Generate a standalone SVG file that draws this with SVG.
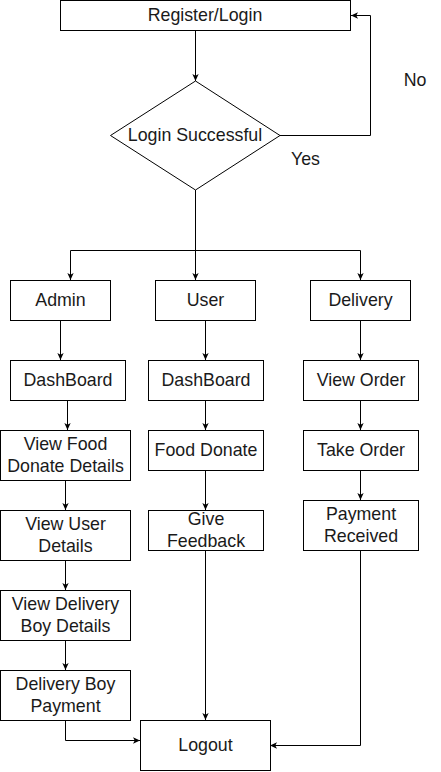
<svg xmlns="http://www.w3.org/2000/svg" width="441" height="772" viewBox="0 0 441 772">
<style>
.box{fill:#fff;stroke:#000;stroke-width:1}
.t{font-family:"Liberation Sans",Arial,sans-serif;font-size:17.8px;fill:#1a1a1a;text-anchor:middle}
.c{fill:none;stroke:#000;stroke-width:1}
</style>
<defs>
<marker id="arr" viewBox="0 0 10 10" refX="10" refY="5" markerWidth="7" markerHeight="7" markerUnits="userSpaceOnUse" orient="auto">
<path d="M0,0.5 L10,5 L0,9.5 L2.5,5 z" fill="#000"/>
</marker>
</defs>
<rect width="441" height="772" fill="#fff"/>
<g id="connectors">
<path class="c" d="M195.5,30 V81" marker-end="url(#arr)"/>
<path class="c" d="M280,135.5 H370.5 V15.5 H351" marker-end="url(#arr)"/>
<path class="c" d="M195.5,190 V280" marker-end="url(#arr)"/>
<path class="c" d="M195.5,250.5 H70.5 V280" marker-end="url(#arr)"/>
<path class="c" d="M195.5,250.5 H360.5 V280" marker-end="url(#arr)"/>
<path class="c" d="M60.5,320 V360" marker-end="url(#arr)"/>
<path class="c" d="M205.5,320 V360" marker-end="url(#arr)"/>
<path class="c" d="M360.5,320 V360" marker-end="url(#arr)"/>
<path class="c" d="M67.5,400 V430" marker-end="url(#arr)"/>
<path class="c" d="M205.5,400 V430" marker-end="url(#arr)"/>
<path class="c" d="M360.5,400 V430" marker-end="url(#arr)"/>
<path class="c" d="M65.5,480 V510" marker-end="url(#arr)"/>
<path class="c" d="M205.5,470 V510" marker-end="url(#arr)"/>
<path class="c" d="M360.5,470 V500" marker-end="url(#arr)"/>
<path class="c" d="M65.5,560 V590" marker-end="url(#arr)"/>
<path class="c" d="M65.5,640 V670" marker-end="url(#arr)"/>
<path class="c" d="M205.5,550 V720" marker-end="url(#arr)"/>
<path class="c" d="M65.5,720 V740.5 H140" marker-end="url(#arr)"/>
<path class="c" d="M360.5,550 V745.5 H270" marker-end="url(#arr)"/>
</g>
<g id="register">
<rect class="box" x="60.5" y="0.5" width="290" height="30"/>
<text class="t" x="205" y="21">Register/Login</text>
</g>
<g id="decision">
<polygon class="box" points="195.5,81 280,135.5 195.5,190 110.5,135.5"/>
<text class="t" x="195" y="141.2">Login Successful</text>
</g>
<text class="t" x="415" y="85.5">No</text>
<text class="t" x="305.5" y="165.2">Yes</text>
<g id="admin">
<rect class="box" x="10.5" y="280.5" width="100" height="40"/>
<text class="t" x="60.5" y="306">Admin</text>
</g>
<g id="user">
<rect class="box" x="155.5" y="280.5" width="100" height="40"/>
<text class="t" x="205.5" y="306">User</text>
</g>
<g id="delivery">
<rect class="box" x="310.5" y="280.5" width="100" height="40"/>
<text class="t" x="360.5" y="306">Delivery</text>
</g>
<g id="admin-dashboard">
<rect class="box" x="10.5" y="360.5" width="115" height="40"/>
<text class="t" x="68" y="386">DashBoard</text>
</g>
<g id="user-dashboard">
<rect class="box" x="148.5" y="360.5" width="115" height="40"/>
<text class="t" x="206" y="386">DashBoard</text>
</g>
<g id="view-order">
<rect class="box" x="303.5" y="360.5" width="115" height="40"/>
<text class="t" x="361" y="386">View Order</text>
</g>
<g id="view-food">
<rect class="box" x="0.5" y="430.5" width="130" height="50"/>
<text class="t" x="65.5" y="450">View Food</text>
<text class="t" x="65.5" y="472">Donate Details</text>
</g>
<g id="food-donate">
<rect class="box" x="148.5" y="430.5" width="115" height="40"/>
<text class="t" x="206" y="456">Food Donate</text>
</g>
<g id="take-order">
<rect class="box" x="303.5" y="430.5" width="115" height="40"/>
<text class="t" x="361" y="456">Take Order</text>
</g>
<g id="view-user">
<rect class="box" x="0.5" y="510.5" width="130" height="50"/>
<text class="t" x="65.5" y="530">View User</text>
<text class="t" x="65.5" y="552">Details</text>
</g>
<g id="give-feedback">
<rect class="box" x="148.5" y="510.5" width="115" height="40"/>
<text class="t" x="206" y="525">Give</text>
<text class="t" x="206" y="547">Feedback</text>
</g>
<g id="payment-received">
<rect class="box" x="303.5" y="500.5" width="115" height="50"/>
<text class="t" x="361" y="520">Payment</text>
<text class="t" x="361" y="542">Received</text>
</g>
<g id="view-delivery-boy">
<rect class="box" x="0.5" y="590.5" width="130" height="50"/>
<text class="t" x="65.5" y="610">View Delivery</text>
<text class="t" x="65.5" y="632">Boy Details</text>
</g>
<g id="delivery-boy-payment">
<rect class="box" x="0.5" y="670.5" width="130" height="50"/>
<text class="t" x="65.5" y="690">Delivery Boy</text>
<text class="t" x="65.5" y="712">Payment</text>
</g>
<g id="logout">
<rect class="box" x="140.5" y="720.5" width="130" height="50"/>
<text class="t" x="205.5" y="751">Logout</text>
</g>
</svg>
